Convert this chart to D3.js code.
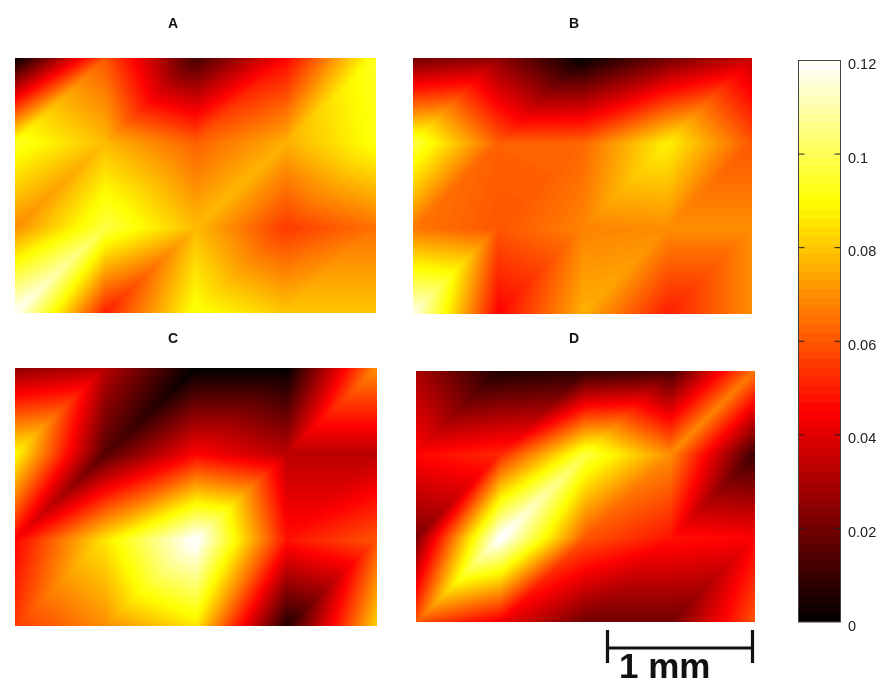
<!DOCTYPE html>
<html><head><meta charset="utf-8">
<script src="https://cdn.jsdelivr.net/npm/d3@7"></script>
<style>
html,body{margin:0;padding:0;background:#fff}
#wrap{position:relative;width:893px;height:688px;overflow:hidden}
canvas{position:absolute;filter:blur(1.1px)}
svg{position:absolute;left:0;top:0}
</style></head><body><div id="wrap"></div>
<script>
const panelNames = ["A","B","C","D"];
const valuesA = [
 [0.000,0.060,0.012,0.045,0.094],
 [0.094,0.078,0.062,0.076,0.092],
 [0.070,0.098,0.078,0.055,0.065],
 [0.120,0.050,0.092,0.080,0.080]];
const valuesB = [
 [0.020,0.025,0.000,0.020,0.035],
 [0.098,0.062,0.063,0.088,0.060],
 [0.066,0.060,0.068,0.070,0.070],
 [0.118,0.045,0.076,0.050,0.070]];
const valuesC = [
 [0.025,0.032,0.000,0.000,0.070],
 [0.090,0.015,0.045,0.033,0.033],
 [0.045,0.086,0.122,0.048,0.060],
 [0.055,0.070,0.086,0.006,0.082]];
const valuesD = [
 [0.030,0.005,0.008,0.012,0.066],
 [0.046,0.052,0.098,0.070,0.010],
 [0.022,0.122,0.060,0.048,0.045],
 [0.060,0.042,0.020,0.020,0.060]];
const panelValues = [valuesA,valuesB,valuesC,valuesD];
const panelBoxes = [[15,376,58,313],[413,752,58,314],[15,377,368,626],[416,755,371,622]];
const titleX = [173,574,173,574], titleY = [28,28,343,343];
const colorStops = [0,0.045,0.09,0.12];
const colorRange = ["#000000","#ff0000","#ffff00","#ffffff"];
const barTicks = [0,0.02,0.04,0.06,0.08,0.1,0.12];
const barLevels = 64, panelLevels = 128;

const color = d3.scaleLinear().domain(colorStops).range(colorRange).clamp(true);
const levelColors = d3.range(panelLevels).map(i => d3.rgb(color((i+0.5)/panelLevels*0.12)));
const level = d3.scaleQuantize().domain([0,0.12]).range(d3.range(panelLevels));

const wrap = d3.select("#wrap");
const pad = 5;
panelValues.forEach((vals,p) => {
  const [x0,x1,y0,y1] = panelBoxes[p];
  const w = x1-x0, h = y1-y0, W = w+2*pad, H = h+2*pad;
  const cols = d3.scaleLinear().domain([0,w]).range([0,vals[0].length-1]).clamp(true);
  const rows = d3.scaleLinear().domain([0,h]).range([0,vals.length-1]).clamp(true);
  const box = wrap.append("div").style("position","absolute").style("left",x0+"px").style("top",y0+"px")
    .style("width",w+"px").style("height",h+"px").style("overflow","hidden");
  const cv = box.append("canvas").attr("width",W).attr("height",H)
    .style("left",-pad+"px").style("top",-pad+"px").node();
  const ctx = cv.getContext("2d");
  const img = ctx.createImageData(W,H);
  for(let j=0;j<H;j++) for(let i=0;i<W;i++){
    const u=cols(i-pad+0.5), v=rows(j-pad+0.5);
    const c=Math.min(Math.floor(u),vals[0].length-2), r=Math.min(Math.floor(v),vals.length-2);
    const fx=u-c, fy=v-r;
    const tl=vals[r][c], tr=vals[r][c+1], bl=vals[r+1][c], br=vals[r+1][c+1];
    // each quad is split along its bottom-left to top-right diagonal
    const val = (fx+fy<=1) ? tl+(tr-tl)*fx+(bl-tl)*fy
                           : br+(bl-br)*(1-fx)+(tr-br)*(1-fy);
    const col = levelColors[level(val)];
    const k=(j*W+i)*4;
    img.data[k]=col.r; img.data[k+1]=col.g; img.data[k+2]=col.b; img.data[k+3]=255;
  }
  ctx.putImageData(img,0,0);
});

const svg = wrap.append("svg").attr("width",893).attr("height",688);
svg.selectAll("text.title").data(panelNames).join("text").attr("class","title")
  .attr("x",(d,i)=>titleX[i]).attr("y",(d,i)=>titleY[i]).attr("text-anchor","middle")
  .attr("font-family","Liberation Sans").attr("font-weight","bold").attr("font-size",14)
  .attr("fill","#111").text(d=>d);

// colour bar
const barX0=798.5, barX1=840.5;
const yBar = d3.scaleLinear().domain([0,0.12]).range([622,60.5]);
const barColor = i => color((i+0.5)/barLevels*0.12);
svg.append("g").attr("shape-rendering","crispEdges").selectAll("rect").data(d3.range(barLevels)).join("rect")
  .attr("x",barX0).attr("width",barX1-barX0)
  .attr("y",i=>Math.floor(yBar((i+1)/barLevels*0.12))).attr("height",i=>Math.ceil(yBar(i/barLevels*0.12))-Math.floor(yBar((i+1)/barLevels*0.12)))
  .attr("fill",barColor);
svg.append("rect").attr("x",barX0).attr("y",yBar(0.12)).attr("width",barX1-barX0)
  .attr("height",yBar(0)-yBar(0.12)).attr("fill","none").attr("stroke","#444").attr("stroke-width",1);
svg.append("g").selectAll("path").data(barTicks.slice(1,-1)).join("path")
  .attr("d",d=>`M${barX0},${yBar(d)}h6M${barX1},${yBar(d)}h-6`).attr("stroke","#222").attr("stroke-width",1).attr("fill","none");
const axis = d3.axisRight(yBar).tickValues(barTicks).tickSize(0).tickPadding(0).tickFormat(d=>String(d));
const ag = svg.append("g").attr("transform",`translate(848,3)`).call(axis);
ag.select(".domain").remove();
ag.selectAll("text").attr("font-family","Liberation Sans").attr("font-size",14.5).attr("fill","#222")
  .attr("x",0).attr("dy","0.35em");

// scale bar
const yScaleBar=648, xS0=607.5, xS1=752.5;
svg.append("path").attr("d",`M${xS0},630V663M${xS0},${yScaleBar}H${xS1}M${xS1},630V663`)
  .attr("stroke","#111").attr("stroke-width",3.2).attr("fill","none");
svg.append("text").attr("x",619).attr("y",678).attr("font-family","Liberation Sans")
  .attr("font-weight","bold").attr("font-size",35).attr("fill","#111").text("1 mm");
</script></body></html>
